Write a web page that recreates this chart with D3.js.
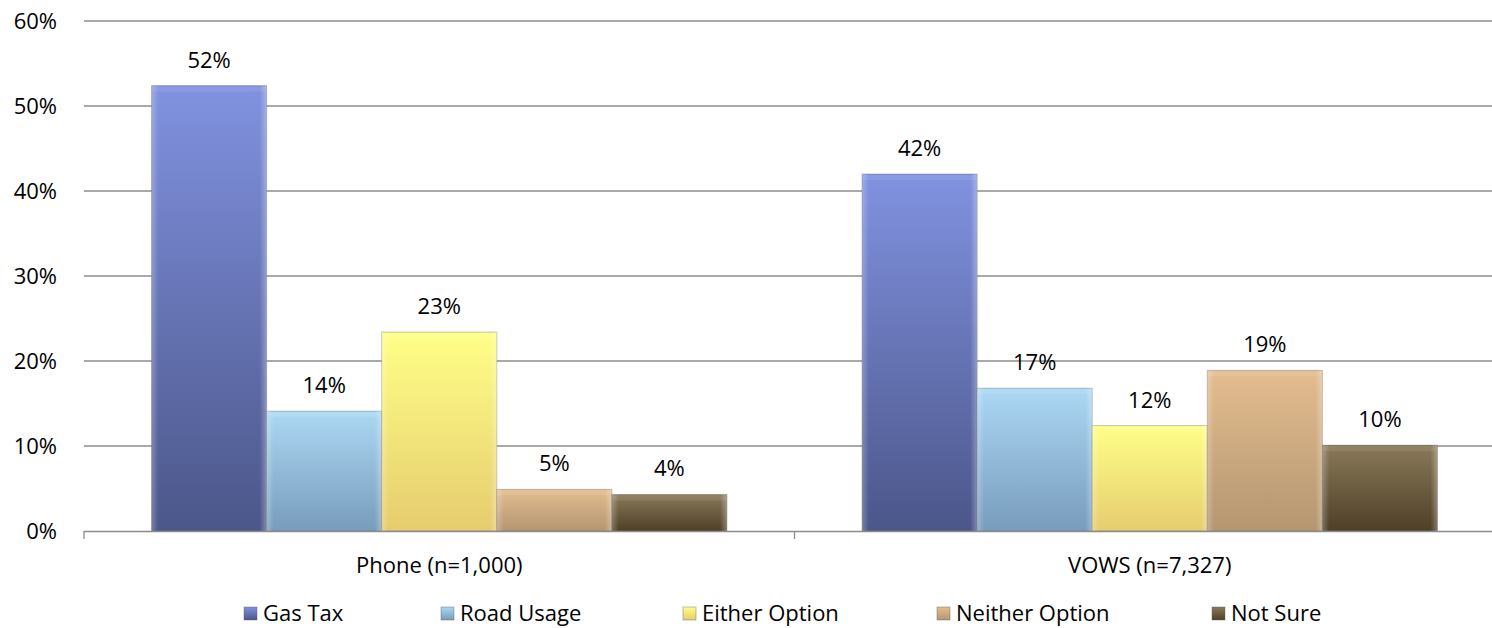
<!DOCTYPE html>
<html><head><meta charset="utf-8">
<script src="https://cdn.jsdelivr.net/npm/d3@7"></script>
<style>body{margin:0;background:#fff;} text{font-family:"Open Sans",Lato,sans-serif;fill:#000;}</style>
</head><body><svg id="c" width="1492" height="628"></svg>
<script>
const categories = ["Phone (n=1,000)", "VOWS (n=7,327)"];
const seriesNames = ["Gas Tax", "Road Usage", "Either Option", "Neither Option", "Not Sure"];
const gasTax = [52.4, 42.0];
const roadUsage = [14.1, 16.8];
const eitherOption = [23.4, 12.4];
const neitherOption = [4.9, 18.9];
const notSure = [4.3, 10.1];
const valueLabels = [["52%","42%"],["14%","17%"],["23%","12%"],["5%","19%"],["4%","10%"]];
const yTicks = [0, 10, 20, 30, 40, 50, 60];
const seriesValues = [gasTax, roadUsage, eitherOption, neitherOption, notSure];
const colors = [
  ["#8192e0","#4b5689"],
  ["#acd8f4","#789cbc"],
  ["#ffff88","#e6cc6e"],
  ["#e4bd90","#b49670"],
  ["#8a7a5a","#4e3f27"]
];
const FS = 22;

const svg = d3.select("#c");
const defs = svg.append("defs");
colors.forEach((c,i)=>{
  const g = defs.append("linearGradient").attr("id","g"+i).attr("x1",0).attr("y1",0).attr("x2",0).attr("y2",1);
  g.append("stop").attr("offset","0%").attr("stop-color",c[0]);
  g.append("stop").attr("offset","100%").attr("stop-color",c[1]);
  const h = defs.append("linearGradient").attr("id","h"+i).attr("x1",0).attr("y1",0).attr("x2",1).attr("y2",0);
  h.append("stop").attr("offset","0%").attr("stop-color","#fff").attr("stop-opacity",0.25);
  h.append("stop").attr("offset","6%").attr("stop-color","#fff").attr("stop-opacity",0);
  h.append("stop").attr("offset","94%").attr("stop-color","#fff").attr("stop-opacity",0);
  h.append("stop").attr("offset","100%").attr("stop-color","#fff").attr("stop-opacity",0.3);
});

const y = d3.scaleLinear().domain([0,60]).range([531,21]);
const x0 = d3.scaleBand().domain(categories).range([84,1505]).padding(0);
const x1 = d3.scaleBand().domain(seriesNames).range([0,x0.bandwidth()]).paddingInner(0).paddingOuter(0.587);

svg.append("g").selectAll("line").data(yTicks.filter(d=>d>0)).join("line")
  .attr("x1",84).attr("x2",1492).attr("y1",d=>y(d)).attr("y2",d=>y(d))
  .attr("stroke","#8c8c8c").attr("stroke-width",1.3);

svg.append("g").selectAll("text").data(yTicks).join("text")
  .attr("x",57).attr("y",d=>y(d)+8).attr("text-anchor","end").attr("font-size",FS)
  .text(d=>d+"%");

seriesNames.forEach((s,i)=>{
  categories.forEach((c,j)=>{
    const v = seriesValues[i][j];
    const bx = x0(c)+x1(s), bw = x1.bandwidth(), by = y(v), bh = y(0)-y(v);
    svg.append("rect").attr("x",bx).attr("y",by).attr("width",bw).attr("height",bh)
      .attr("fill","url(#g"+i+")").attr("stroke","rgba(90,90,90,0.35)").attr("stroke-width",1);
    svg.append("rect").attr("x",bx).attr("y",by).attr("width",bw).attr("height",bh)
      .attr("fill","url(#h"+i+")");
    svg.append("rect").attr("x",bx+1).attr("y",by+1).attr("width",bw-2).attr("height",Math.min(5,bh-2))
      .attr("fill","#fff").attr("opacity",0.08);
    svg.append("text").attr("x",bx+bw/2).attr("y",by-18).attr("text-anchor","middle")
      .attr("font-size",FS).text(valueLabels[i][j]);
  });
});

svg.append("line").attr("x1",84).attr("x2",1492).attr("y1",531.5).attr("y2",531.5)
  .attr("stroke","#8c8c8c").attr("stroke-width",1.5);
const tickXs = [x0(categories[0]), x0(categories[1])];
svg.append("g").selectAll("line").data(tickXs).join("line")
  .attr("x1",d=>d).attr("x2",d=>d).attr("y1",531).attr("y2",539)
  .attr("stroke","#8c8c8c").attr("stroke-width",1.3);
svg.append("g").selectAll("text").data(categories).join("text")
  .attr("x",d=>x0(d)+x0.bandwidth()/2).attr("y",573).attr("text-anchor","middle")
  .attr("font-size",FS).text(d=>d);

const legendX = [244, 441, 683, 937, 1212];
const lg = svg.append("g").selectAll("g").data(seriesNames).join("g")
  .attr("transform",(d,i)=>`translate(${legendX[i]},607)`);
lg.append("rect").attr("width",13).attr("height",13).attr("fill",(d,i)=>"url(#g"+i+")")
  .attr("stroke","rgba(90,90,90,0.4)");
lg.append("text").attr("x",19).attr("y",14).attr("font-size",FS).text(d=>d);
</script></body></html>
